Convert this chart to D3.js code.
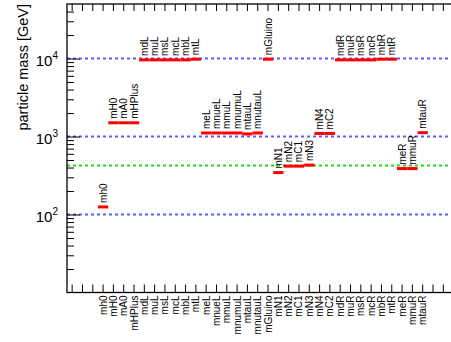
<!DOCTYPE html>
<html>
<head>
<meta charset="utf-8">
<script src="https://cdn.jsdelivr.net/npm/d3@7"></script>
<style>
  html, body { margin: 0; padding: 0; background: #fff; }
  svg { display: block; font-family: "Liberation Sans", Arial, Helvetica, sans-serif; }
</style>
</head>
<body>
<svg id="chart" width="451" height="342"></svg>
<script>
// Sparticle / Higgs mass spectrum (GeV)
const categories = [
  "mh0", "mH0", "mA0", "mHPlus",
  "mdL", "muL", "msL", "mcL", "mbL", "mtL",
  "meL", "mnueL", "mmuL", "mnumuL", "mtauL", "mnutauL",
  "mGluino",
  "mN1", "mN2", "mC1", "mN3", "mN4", "mC2",
  "mdR", "muR", "msR", "mcR", "mbR", "mtR",
  "meR", "mmuR", "mtauR"
];
const masses = [
  125, 1500, 1500, 1500,
  9600, 9600, 9600, 9600, 9600, 9800,
  1110, 1110, 1110, 1110, 1080, 1110,
  9800,
  345, 417, 417, 430, 1095, 1095,
  9600, 9600, 9600, 9600, 9800, 9800,
  388, 388, 1120
];
// empty bins on each side of the labelled ones
const emptyLeft = 3;
const emptyRight = 3;
// horizontal reference lines
const decadeLines = [100, 1000, 10000];
const markerLine = 424;
const yDomain = [10, 50000];
const majorTicks = [100, 1000, 10000];

const svg = d3.select("#chart");
const L = 67, T = 4, B = 292.5, binW = 10.31;

const bins = d3.range(emptyLeft).map(i => "_l" + i)
  .concat(categories)
  .concat(d3.range(emptyRight).map(i => "_r" + i));
const R = L + bins.length * binW;

const x = d3.scaleBand().domain(bins).range([L, R]).paddingInner(0).paddingOuter(0);
const y = d3.scaleLog().domain(yDomain).range([B, T]);
const cx = d => x(d) + x.bandwidth() / 2;

// minor decade ticks
const minorTicks = [];
for (let e = 1; e <= 4; e++) {
  for (let k = 2; k <= 9; k++) {
    const v = k * Math.pow(10, e);
    if (v < yDomain[1]) minorTicks.push(v);
  }
}

// reference lines
svg.append("g").selectAll("line").data(decadeLines).join("line")
  .attr("x1", L).attr("x2", R)
  .attr("y1", d => y(d)).attr("y2", d => y(d))
  .attr("stroke", "#5c5cff").attr("stroke-width", 2)
  .attr("stroke-dasharray", "3,3");
svg.append("line")
  .attr("x1", L).attr("x2", R)
  .attr("y1", y(markerLine)).attr("y2", y(markerLine))
  .attr("stroke", "#1cdc1c").attr("stroke-width", 2)
  .attr("stroke-dasharray", "3,3");

// y axis: minor ticks, major ticks with labels
const yMinor = d3.axisRight(y).tickValues(minorTicks).tickSize(7).tickFormat("");
svg.append("g").attr("transform", `translate(${L},0)`).call(yMinor)
  .call(g => g.select(".domain").remove());
const yMajor = d3.axisRight(y).tickValues(majorTicks).tickSize(13)
  .tickFormat(d => String(Math.round(Math.log10(d))));
const gy = svg.append("g").attr("transform", `translate(${L},0)`).call(yMajor)
  .call(g => g.select(".domain").remove());
gy.selectAll(".tick line").attr("stroke", "#000");
gy.selectAll(".tick text").each(function(d) {
  const t = d3.select(this);
  const exp = Math.round(Math.log10(d));
  t.text(null)
    .attr("x", -9).attr("dy", null).attr("y", 7)
    .attr("text-anchor", "end")
    .attr("font-size", 15).attr("fill", "#000");
  t.append("tspan").text("10");
  t.append("tspan").attr("dy", -7).attr("font-size", 10).text(exp);
});

// top and bottom bin ticks
svg.append("g").attr("transform", `translate(0,${T})`)
  .call(d3.axisBottom(x).tickSize(7).tickFormat(""))
  .call(g => g.select(".domain").remove());
const gx = svg.append("g").attr("transform", `translate(0,${B})`)
  .call(d3.axisTop(x).tickSize(8)
    .tickFormat(d => d.startsWith("_") ? "" : d))
  .call(g => g.select(".domain").remove());
gx.selectAll(".tick text")
  .attr("transform", "rotate(-90)")
  .attr("x", -3).attr("y", 0).attr("dy", "0.35em")
  .attr("text-anchor", "end")
  .attr("font-size", 10).attr("fill", "#000");

// frame
svg.append("rect").attr("x", L).attr("y", T)
  .attr("width", R - L).attr("height", B - T)
  .attr("fill", "none").attr("stroke", "#000").attr("stroke-width", 1.3);

// mass markers
const pts = categories.map((c, i) => ({ c, v: masses[i] }));
svg.append("g").selectAll("line").data(pts).join("line")
  .attr("x1", d => x(d.c)).attr("x2", d => x(d.c) + x.bandwidth())
  .attr("y1", d => y(d.v)).attr("y2", d => y(d.v))
  .attr("stroke", "#ff0000").attr("stroke-width", 3);

// marker labels
svg.append("g").selectAll("text").data(pts).join("text")
  .attr("transform", d => `translate(${cx(d.c)},${y(d.v) - 4}) rotate(-90)`)
  .attr("dy", "0.35em")
  .attr("font-size", 10).attr("fill", "#000")
  .text(d => d.c);

// y title
svg.append("text")
  .attr("transform", `translate(23,${T}) rotate(-90)`)
  .attr("dy", "0.35em")
  .attr("text-anchor", "end")
  .attr("font-size", 14.5).attr("fill", "#000")
  .text("particle mass [GeV]");
</script>
</body>
</html>
